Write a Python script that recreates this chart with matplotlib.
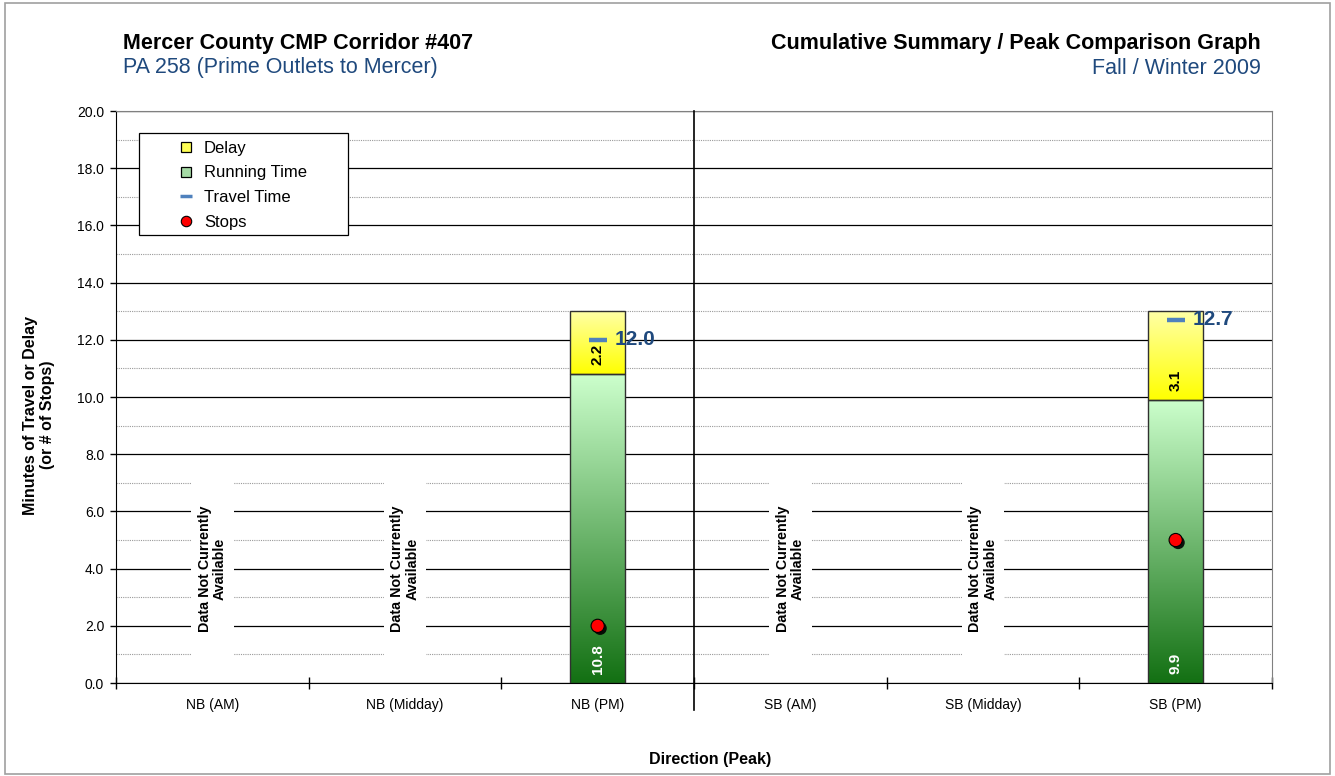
import numpy as np
import matplotlib
matplotlib.use("Agg")
from matplotlib import pyplot as plt
from matplotlib.colors import LinearSegmentedColormap
from matplotlib.lines import Line2D
from matplotlib.patches import Rectangle
import matplotlib.patheffects as pe

plt.rcParams['font.family'] = ['Liberation Sans', 'DejaVu Sans']

# corridor summary values (None = no data collected)
categories = ['NB (AM)', 'NB (Midday)', 'NB (PM)', 'SB (AM)', 'SB (Midday)', 'SB (PM)']
running_time = [None, None, 10.8, None, None, 9.9]
delay_time = [None, None, 2.2, None, None, 3.1]
travel_time = [None, None, 12.0, None, None, 12.7]
stops = [None, None, 2, None, None, 5]

title_left = "Mercer County CMP Corridor #407"
subtitle_left = "PA 258 (Prime Outlets to Mercer)"
title_right = "Cumulative Summary / Peak Comparison Graph"
subtitle_right = "Fall / Winter 2009"

navy = '#1f497d'
green_cmap = LinearSegmentedColormap.from_list('run', ['#137013', '#ccffcc'])
yellow_cmap = LinearSegmentedColormap.from_list('dly', ['#ffff00', '#ffffa6'])

fig = plt.figure(figsize=(13.35, 7.76), dpi=100)
ax = fig.add_axes([0.0869, 0.1198, 0.8659, 0.7371])

# outer frame of the sheet
fig.patches.append(Rectangle((0.004, 0.003), 0.992, 0.993, transform=fig.transFigure,
                             fill=False, edgecolor='#a0a0a0', lw=1.2))

x = np.arange(len(categories))
bar_w = 0.285


def gradient_bar(xc, bottom, height, cmap):
    grad = np.linspace(0, 1, 256).reshape(-1, 1)
    ax.imshow(grad, cmap=cmap, origin='lower', aspect='auto',
              extent=[xc - bar_w / 2, xc + bar_w / 2, bottom, bottom + height], zorder=2)
    ax.add_patch(Rectangle((xc - bar_w / 2, bottom), bar_w, height, fill=False,
                           edgecolor='#303030', lw=1.0, zorder=3))


for i, xc in enumerate(x):
    if running_time[i] is None:
        # placeholder note over a white patch that hides the grid
        ax.add_patch(Rectangle((xc - 0.11, 0.8), 0.22, 6.4, facecolor='white',
                               edgecolor='none', zorder=1.5))
        ax.text(xc, 4.0, "Data Not Currently\nAvailable", rotation=90, ha='center', va='center',
                fontsize=10.3, fontweight='bold', linespacing=1.12, zorder=2)
        continue
    gradient_bar(xc, 0, running_time[i], green_cmap)
    gradient_bar(xc, running_time[i], delay_time[i], yellow_cmap)
    ax.annotate("%.1f" % running_time[i], (xc, 0), xytext=(0, 6.5), textcoords='offset points',
                rotation=90, ha='center', va='bottom', fontsize=11, fontweight='bold',
                color='white', zorder=5)
    ax.annotate("%.1f" % delay_time[i], (xc, running_time[i]), xytext=(0, 6.5),
                textcoords='offset points', rotation=90, ha='center', va='bottom',
                fontsize=11, fontweight='bold', color='black', zorder=5)
    ax.plot(xc, travel_time[i], marker='_', color='#4f81bd', markersize=13, mew=3.2, zorder=6)
    ax.annotate("%.1f" % travel_time[i], (xc, travel_time[i]), xytext=(12, 0),
                textcoords='offset points', ha='left', va='center', fontsize=15,
                fontweight='bold', color=navy, zorder=6)
    ax.plot(xc, stops[i], marker='o', color='#ff0000', markeredgecolor='black', mew=0.8,
            markersize=9.5, zorder=7,
            path_effects=[pe.SimplePatchShadow(offset=(1.8, -1.8), shadow_rgbFace='black', alpha=0.9),
                          pe.Normal()])

ax.set_xlim(-0.5, len(categories) - 0.5)
ax.set_ylim(0, 20)

# grid: solid every 2, dotted on odd values
ax.set_yticks(np.arange(0, 21, 2))
ax.set_yticks(np.arange(1, 20, 2), minor=True)
ax.set_yticklabels(["%.1f" % v for v in np.arange(0, 21, 2)])
ax.yaxis.grid(True, which='major', color='black', lw=0.9, zorder=0)
ax.yaxis.grid(True, which='minor', color='#9a9a9a', lw=0.8, linestyle=(0, (1, 1)), zorder=0)
ax.set_axisbelow(True)
ax.tick_params(axis='y', which='major', direction='out', length=4.5, width=1, labelsize=10, pad=4)
ax.tick_params(axis='y', which='minor', length=0)

ax.set_xticks(np.arange(-0.5, len(categories), 1.0))
ax.set_xticklabels([])
ax.set_xticks(x, minor=True)
ax.set_xticklabels(categories, minor=True)
ax.tick_params(axis='x', which='major', direction='inout', length=8, width=1)
ax.tick_params(axis='x', which='minor', length=0, labelsize=10, pad=11)

for side in ['top', 'right']:
    ax.spines[side].set_color('#808080')
for side in ['left', 'bottom']:
    ax.spines[side].set_color('black')

# NB / SB divider
ax.plot([2.5, 2.5], [-0.95, 20], color='black', lw=1.2, clip_on=False, zorder=4)

ax.set_ylabel("Minutes of Travel or Delay\n(or # of Stops)", fontsize=11.5, fontweight='bold',
              linespacing=1.12)
ax.yaxis.set_label_coords(-0.053, 0.4685)
ax.set_xlabel("Direction (Peak)", fontsize=11.5, fontweight='bold')
ax.xaxis.set_label_coords(0.514, -0.1206)

# legend frame drawn separately so the handles sit further in
ax.add_patch(Rectangle((0.0199, 0.7832), 0.1808, 0.1783, transform=ax.transAxes,
                       facecolor='white', edgecolor='black', lw=0.9, zorder=8))
handles = [
    Line2D([], [], ls='none', marker='s', markersize=7, markerfacecolor='#ffff55',
           markeredgecolor='black', mew=0.9),
    Line2D([], [], ls='none', marker='s', markersize=7, markerfacecolor='#a6dba6',
           markeredgecolor='black', mew=0.9),
    Line2D([], [], ls='none', marker='_', markersize=8, color='#4f81bd', mew=2.5),
    Line2D([], [], ls='none', marker='o', markersize=7.5, markerfacecolor='#ff0000',
           markeredgecolor='black', mew=0.8),
]
leg = ax.legend(handles, ['Delay', 'Running Time', 'Travel Time', 'Stops'],
                loc='upper left', bbox_to_anchor=(0.0523, 0.948), borderaxespad=0,
                borderpad=0, frameon=False, fontsize=12, handlelength=1.15,
                handletextpad=0.5, labelspacing=0.58)
leg.set_zorder(9)

# header text
fig.text(123 / 1335, 1 - 43 / 776, title_left, fontsize=15.5, fontweight='bold',
         ha='left', va='center')
fig.text(123 / 1335, 1 - 68 / 776, subtitle_left, fontsize=15.5, color=navy,
         ha='left', va='center')
fig.text(1261 / 1335, 1 - 43 / 776, title_right, fontsize=15.5, fontweight='bold',
         ha='right', va='center')
fig.text(1261 / 1335, 1 - 68 / 776, subtitle_right, fontsize=15.5, color=navy,
         ha='right', va='center')

fig.savefig("out.png", dpi=100)
